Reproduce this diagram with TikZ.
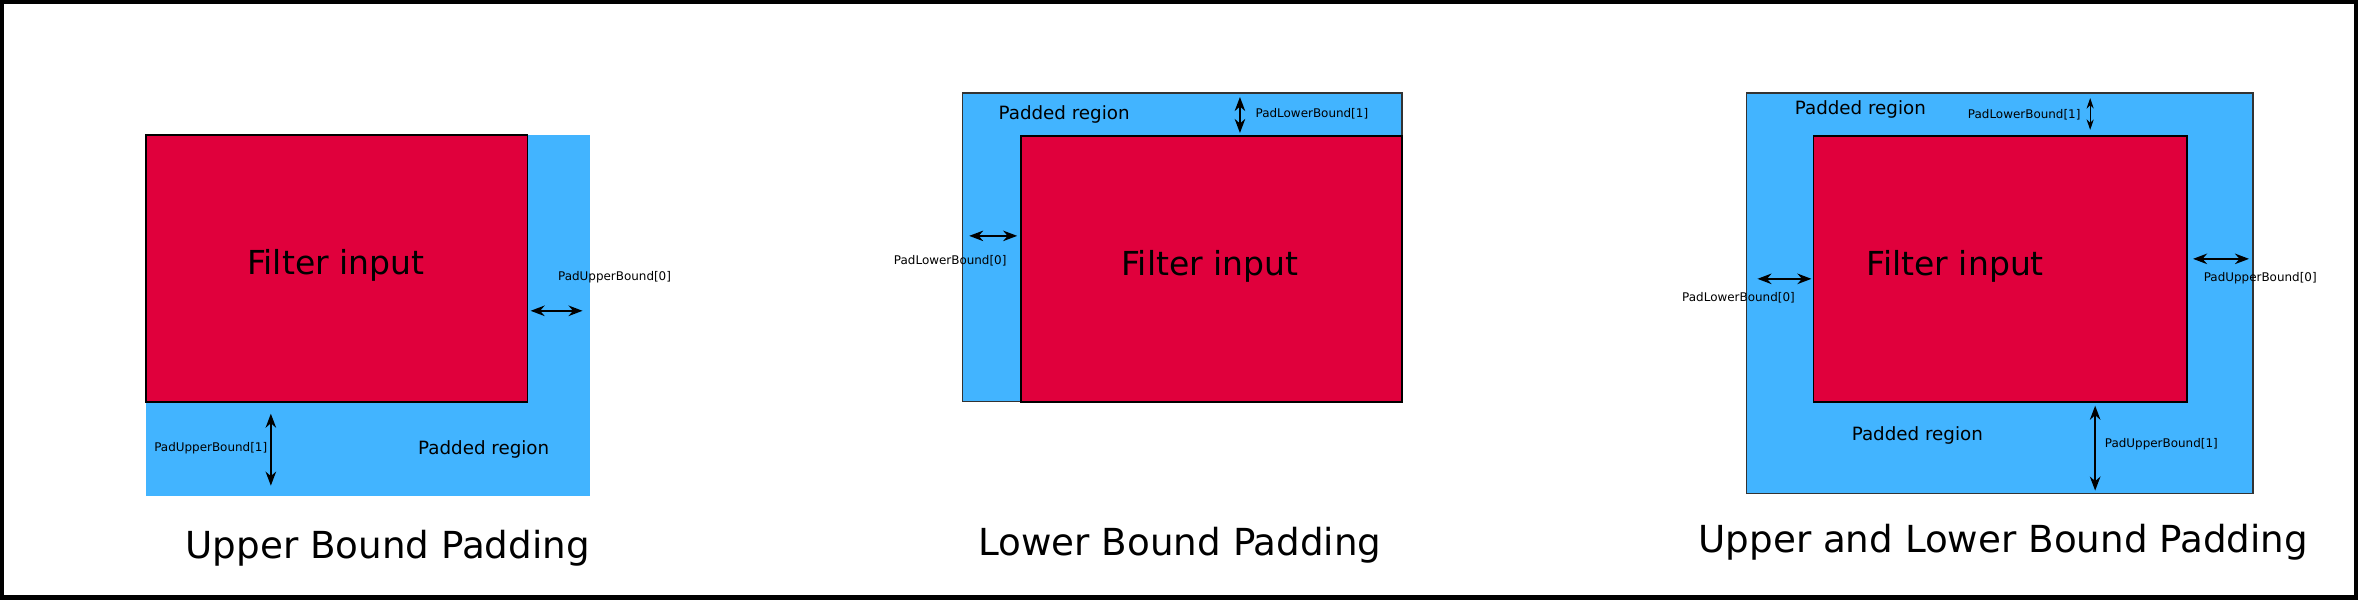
\documentclass[tikz,border=0pt]{standalone}
\usepackage{fontspec}
\setmainfont{DejaVu Sans}
\usetikzlibrary{arrows.meta}
\definecolor{padblue}{HTML}{42B4FF}
\definecolor{filtred}{HTML}{E0003C}
\begin{document}
\begin{tikzpicture}[x=0.01cm,y=-0.01cm,
  pad/.style={fill=padblue,draw=black!80,line width=0.4pt},
  padnb/.style={fill=padblue,draw=none},
  filt/.style={fill=filtred,draw=black,line width=0.5pt},
  big/.style={font=\fontsize{9.4}{11}\selectfont},
  title/.style={font=\fontsize{10.6}{12}\selectfont},
  preg/.style={font=\fontsize{5.2}{6}\selectfont},
  lab/.style={font=\fontsize{3.4}{4}\selectfont,inner sep=0pt},
  dim/.style={{Stealth[length=4pt,width=3pt]}-{Stealth[length=4pt,width=3pt]},line width=0.5pt}]
\draw[line width=1.2pt,fill=white] (1,1) rectangle (2357,597);
\useasboundingbox (0,0) rectangle (2358,598);
% Panel 1
\path[padnb] (145,134) rectangle (589,495);
\draw[filt] (145,134) rectangle (527,401);
\node[big] (f1) at (335,265) {Filter input};
\node[preg] (p1) at (483,449) {Padded region};
\coordinate (a1) at (530,310); \coordinate (b1) at (582,310);
\draw[dim] (a1) -- (b1);
\node[lab] (l1) at (614,276) {PadUpperBound[0]};
\coordinate (a2) at (270,413); \coordinate (b2) at (270,485);
\draw[dim] (a2) -- (b2);
\node[lab,anchor=east] (l2) at (267,448) {PadUpperBound[1]};
\node[title] (t1) at (387,548) {Upper Bound Padding};
% Panel 2
\draw[pad] (962,92) rectangle (1402,401);
\draw[filt] (1021,135) rectangle (1402,401);
\node[big] (f2) at (1210,266) {Filter input};
\node[preg] (p2) at (1064,113) {Padded region};
\coordinate (a3) at (1240,96); \coordinate (b3) at (1240,132);
\draw[dim] (a3) -- (b3);
\node[lab,anchor=west] (l3) at (1255,113) {PadLowerBound[1]};
\coordinate (a4) at (969,235); \coordinate (b4) at (1017,235);
\draw[dim] (a4) -- (b4);
\node[lab] (l4) at (950,260) {PadLowerBound[0]};
\node[title] (t2) at (1180,545) {Lower Bound Padding};
% Panel 3
\draw[pad] (1747,92) rectangle (2254,493);
\draw[filt] (1814,135) rectangle (2188,401);
\node[big] (f3) at (1956,266) {Filter input};
\node[preg] (p3) at (1861,108) {Padded region};
\node[preg] (p4) at (1918,435) {Padded region};
\coordinate (a5) at (2091,97); \coordinate (b5) at (2091,129);
\draw[dim,{Stealth[length=3pt,width=2pt]}-{Stealth[length=3pt,width=2pt]},line width=0.35pt] (a5) -- (b5);
\node[lab,anchor=east] (l5) at (2082,114) {PadLowerBound[1]};
\coordinate (a6) at (1758,278); \coordinate (b6) at (1812,278);
\draw[dim] (a6) -- (b6);
\node[lab] (l6) at (1739,297) {PadLowerBound[0]};
\coordinate (a7) at (2194,258); \coordinate (b7) at (2250,258);
\draw[dim] (a7) -- (b7);
\node[lab,anchor=west] (l7) at (2204,277) {PadUpperBound[0]};
\coordinate (a8) at (2096,405); \coordinate (b8) at (2096,490);
\draw[dim] (a8) -- (b8);
\node[lab,anchor=west] (l8) at (2105,444) {PadUpperBound[1]};
\node[title] (t3) at (2004,542) {Upper and Lower Bound Padding};
\end{tikzpicture}
\end{document}
